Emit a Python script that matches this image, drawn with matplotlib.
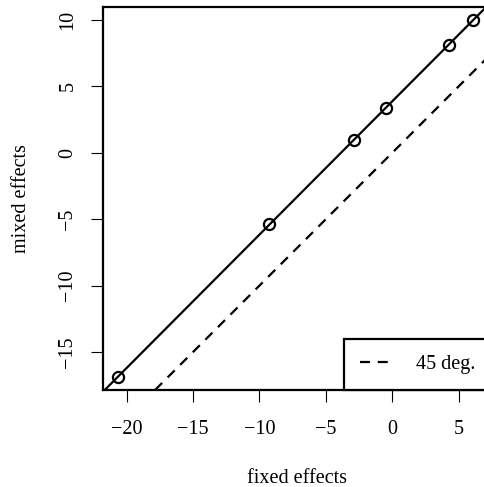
import numpy as np
import matplotlib
matplotlib.use("Agg")
import matplotlib.pyplot as plt

# group estimates: fixed-effects model vs mixed-effects model
fixed_eff = [-20.63, -9.26, -2.88, -0.47, 4.27, 6.05]
mixed_eff = [-16.86, -5.37, 0.98, 3.41, 8.11, 9.97]
x_ticks = [-20, -15, -10, -5, 0, 5]
y_ticks = [-15, -10, -5, 0, 5, 10]

plt.rcParams['font.family'] = ['Liberation Serif', 'DejaVu Serif']
plt.rcParams['font.size'] = 14.5

fig = plt.figure(figsize=(4.85, 4.87), dpi=100)
# plot region runs a little past the right edge of the image
ax = fig.add_axes([103 / 485, 1 - 390 / 487, 388 / 485, 383 / 487])

ax.plot(fixed_eff, mixed_eff, 'o', mfc='none', mec='black', ms=8, mew=1.6, zorder=3)

# least squares line through the estimates
slope, intercept = np.polyfit(fixed_eff, mixed_eff, 1)
ax.axline((0, intercept), slope=slope, color='black', lw=1.6)

# 45 degree reference
ax.axline((0, 0), slope=1, color='black', lw=1.6, dashes=(4.5, 3.5), label='45 deg.')

ax.set_xlim(-21.78, 7.44)
ax.set_ylim(-17.86, 10.98)
ax.set_xticks(x_ticks)
ax.set_yticks(y_ticks)
ax.tick_params(axis='x', length=8.5, width=0.8, pad=13)
ax.tick_params(axis='y', length=8.5, width=0.8, pad=10)
for lab in ax.get_yticklabels():
    lab.set_rotation(90)
    lab.set_va('center')
for s in ax.spines.values():
    s.set_linewidth(1.6)

ax.set_xlabel('fixed effects', labelpad=22)
ax.set_ylabel('mixed effects', labelpad=20)

leg = ax.legend(loc='lower right', bbox_to_anchor=(1.0, 0.0), fancybox=False,
                edgecolor='black', framealpha=1, borderaxespad=0,
                handlelength=1.5, handletextpad=1.25, borderpad=0.8)
leg.get_frame().set_linewidth(1.6)

fig.savefig('out.png', dpi=100)
